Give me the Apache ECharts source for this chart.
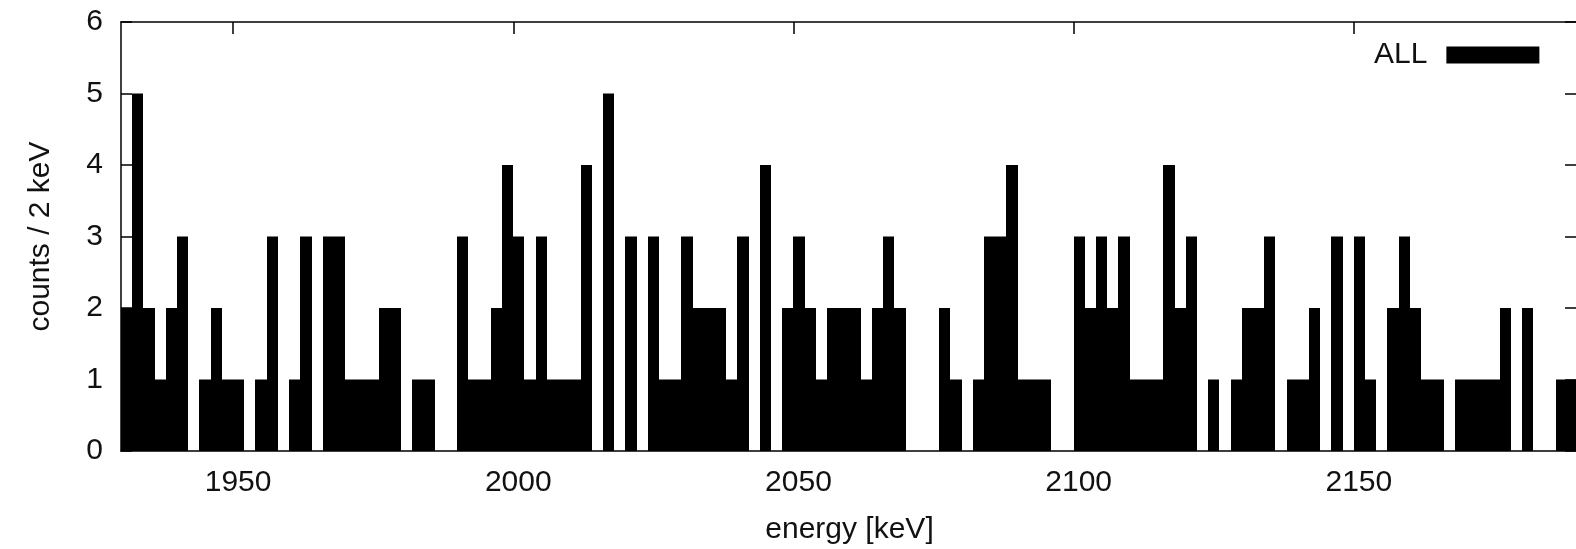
<!DOCTYPE html>
<html>
<head>
<meta charset="utf-8">
<title>energy spectrum</title>
<script src="https://cdn.jsdelivr.net/npm/echarts@6/dist/echarts.min.js"></script>
<style>
    html, body { margin: 0; padding: 0; background: #fff; }
    #spectrumChart { width: 1576px; height: 549px; }
</style>
</head>
<body>
<div id="spectrumChart"></div>
<script>
// histogram, 2 keV bins starting at 1930 keV
var binStart = 1930;
var binWidth = 2;
var counts = [
    2, 5, 2, 1, 2, 3, 0, 1, 2, 1,
    1, 0, 1, 3, 0, 1, 3, 0, 3, 3,
    1, 1, 1, 2, 2, 0, 1, 1, 0, 0,
    3, 1, 1, 2, 4, 3, 1, 3, 1, 1,
    1, 4, 0, 5, 0, 3, 0, 3, 1, 1,
    3, 2, 2, 2, 1, 3, 0, 4, 0, 2,
    3, 2, 1, 2, 2, 2, 1, 2, 3, 2,
    0, 0, 0, 2, 1, 0, 1, 3, 3, 4,
    1, 1, 1, 0, 0, 3, 2, 3, 2, 3,
    1, 1, 1, 4, 2, 3, 0, 1, 0, 1,
    2, 2, 3, 0, 1, 1, 2, 0, 3, 0,
    3, 1, 0, 2, 3, 2, 1, 1, 0, 1,
    1, 1, 1, 2, 0, 2, 0, 0, 1, 1
];
var xTicks = [1950, 2000, 2050, 2100, 2150];
var xRange = [1930, 2190];
var yRange = [0, 6];

var chart, option;
var FONT = 'Liberation Sans, Arial, Helvetica, sans-serif';

function buildBins() {
    var bins = [];
    for (var i = 0; i < counts.length; i++) {
        var lo = binStart + i * binWidth;
        bins.push([lo, lo + binWidth, counts[i]]);
    }
    return bins;
}

function renderBin(params, api) {
    var topLeft = api.coord([api.value(0), api.value(2)]);
    var bottomRight = api.coord([api.value(1), 0]);
    // snap edges to whole pixels so neighbouring boxes leave no seam
    var x0 = Math.round(topLeft[0]);
    var x1 = Math.round(bottomRight[0]);
    return {
        type: 'rect',
        shape: {
            x: x0,
            y: topLeft[1],
            width: x1 - x0,
            height: bottomRight[1] - topLeft[1]
        },
        style: { fill: '#000' }
    };
}

function plainNumber(v) {
    return String(v);
}

function initChart() {
    chart = echarts.init(document.getElementById('spectrumChart'), null, { renderer: 'canvas' });

    var axisLine = { show: true, onZero: false, lineStyle: { color: '#000', width: 1.5 } };

    option = {
        animation: false,
        backgroundColor: '#fff',
        grid: { left: 121, right: -2, top: 22, bottom: 98, containLabel: false, outerBoundsMode: 'none' },
        legend: {
            left: 1369,
            top: 35,
            align: 'right',
            itemWidth: 93,
            itemHeight: 17,
            itemGap: 0,
            data: [{ name: 'ALL', icon: 'rect' }],
            textStyle: { fontFamily: FONT, fontSize: 30, color: '#111', padding: [0, 14, 0, 0] }
        },
        xAxis: [ {
            type: 'value',
            position: 'bottom',
            min: xRange[0],
            max: xRange[1],
            name: 'energy [keV]',
            nameLocation: 'middle',
            nameGap: 64,
            nameTextStyle: { fontFamily: FONT, fontSize: 30, color: '#111' },
            axisLine: axisLine,
            axisTick: { show: false },
            axisLabel: {
                fontFamily: FONT, fontSize: 30, color: '#111', margin: 17,
                padding: [0, 0, 0, 10],
                customValues: xTicks,
                formatter: plainNumber
            },
            splitLine: { show: false }
        }, {
            type: 'value',
            position: 'top',
            min: xRange[0],
            max: xRange[1],
            axisLine: axisLine,
            axisTick: { show: true, inside: true, length: 12, customValues: xTicks, lineStyle: { color: '#000', width: 1.5 } },
            axisLabel: { show: false },
            splitLine: { show: false }
        } ],
        yAxis: [ {
            type: 'value',
            position: 'left',
            min: yRange[0],
            max: yRange[1],
            interval: 1,
            name: 'counts / 2 keV',
            nameLocation: 'middle',
            nameGap: 65,
            nameTextStyle: { fontFamily: FONT, fontSize: 30, color: '#111' },
            axisLine: axisLine,
            axisTick: { show: true, inside: true, length: 11, lineStyle: { color: '#000', width: 1.5 } },
            axisLabel: { fontFamily: FONT, fontSize: 30, color: '#111', margin: 18, formatter: plainNumber },
            splitLine: { show: false }
        }, {
            type: 'value',
            position: 'right',
            min: yRange[0],
            max: yRange[1],
            interval: 1,
            axisLine: axisLine,
            axisTick: { show: true, inside: true, length: 13, lineStyle: { color: '#000', width: 1.5 } },
            axisLabel: { show: false },
            splitLine: { show: false }
        } ],
        series: [ {
            name: 'ALL',
            type: 'custom',
            renderItem: renderBin,
            itemStyle: { color: '#000' },
            encode: { x: [0, 1], y: 2 },
            data: buildBins(),
            z: 1
        } ]
    };

    chart.setOption(option);
}

initChart();
</script>
</body>
</html>
